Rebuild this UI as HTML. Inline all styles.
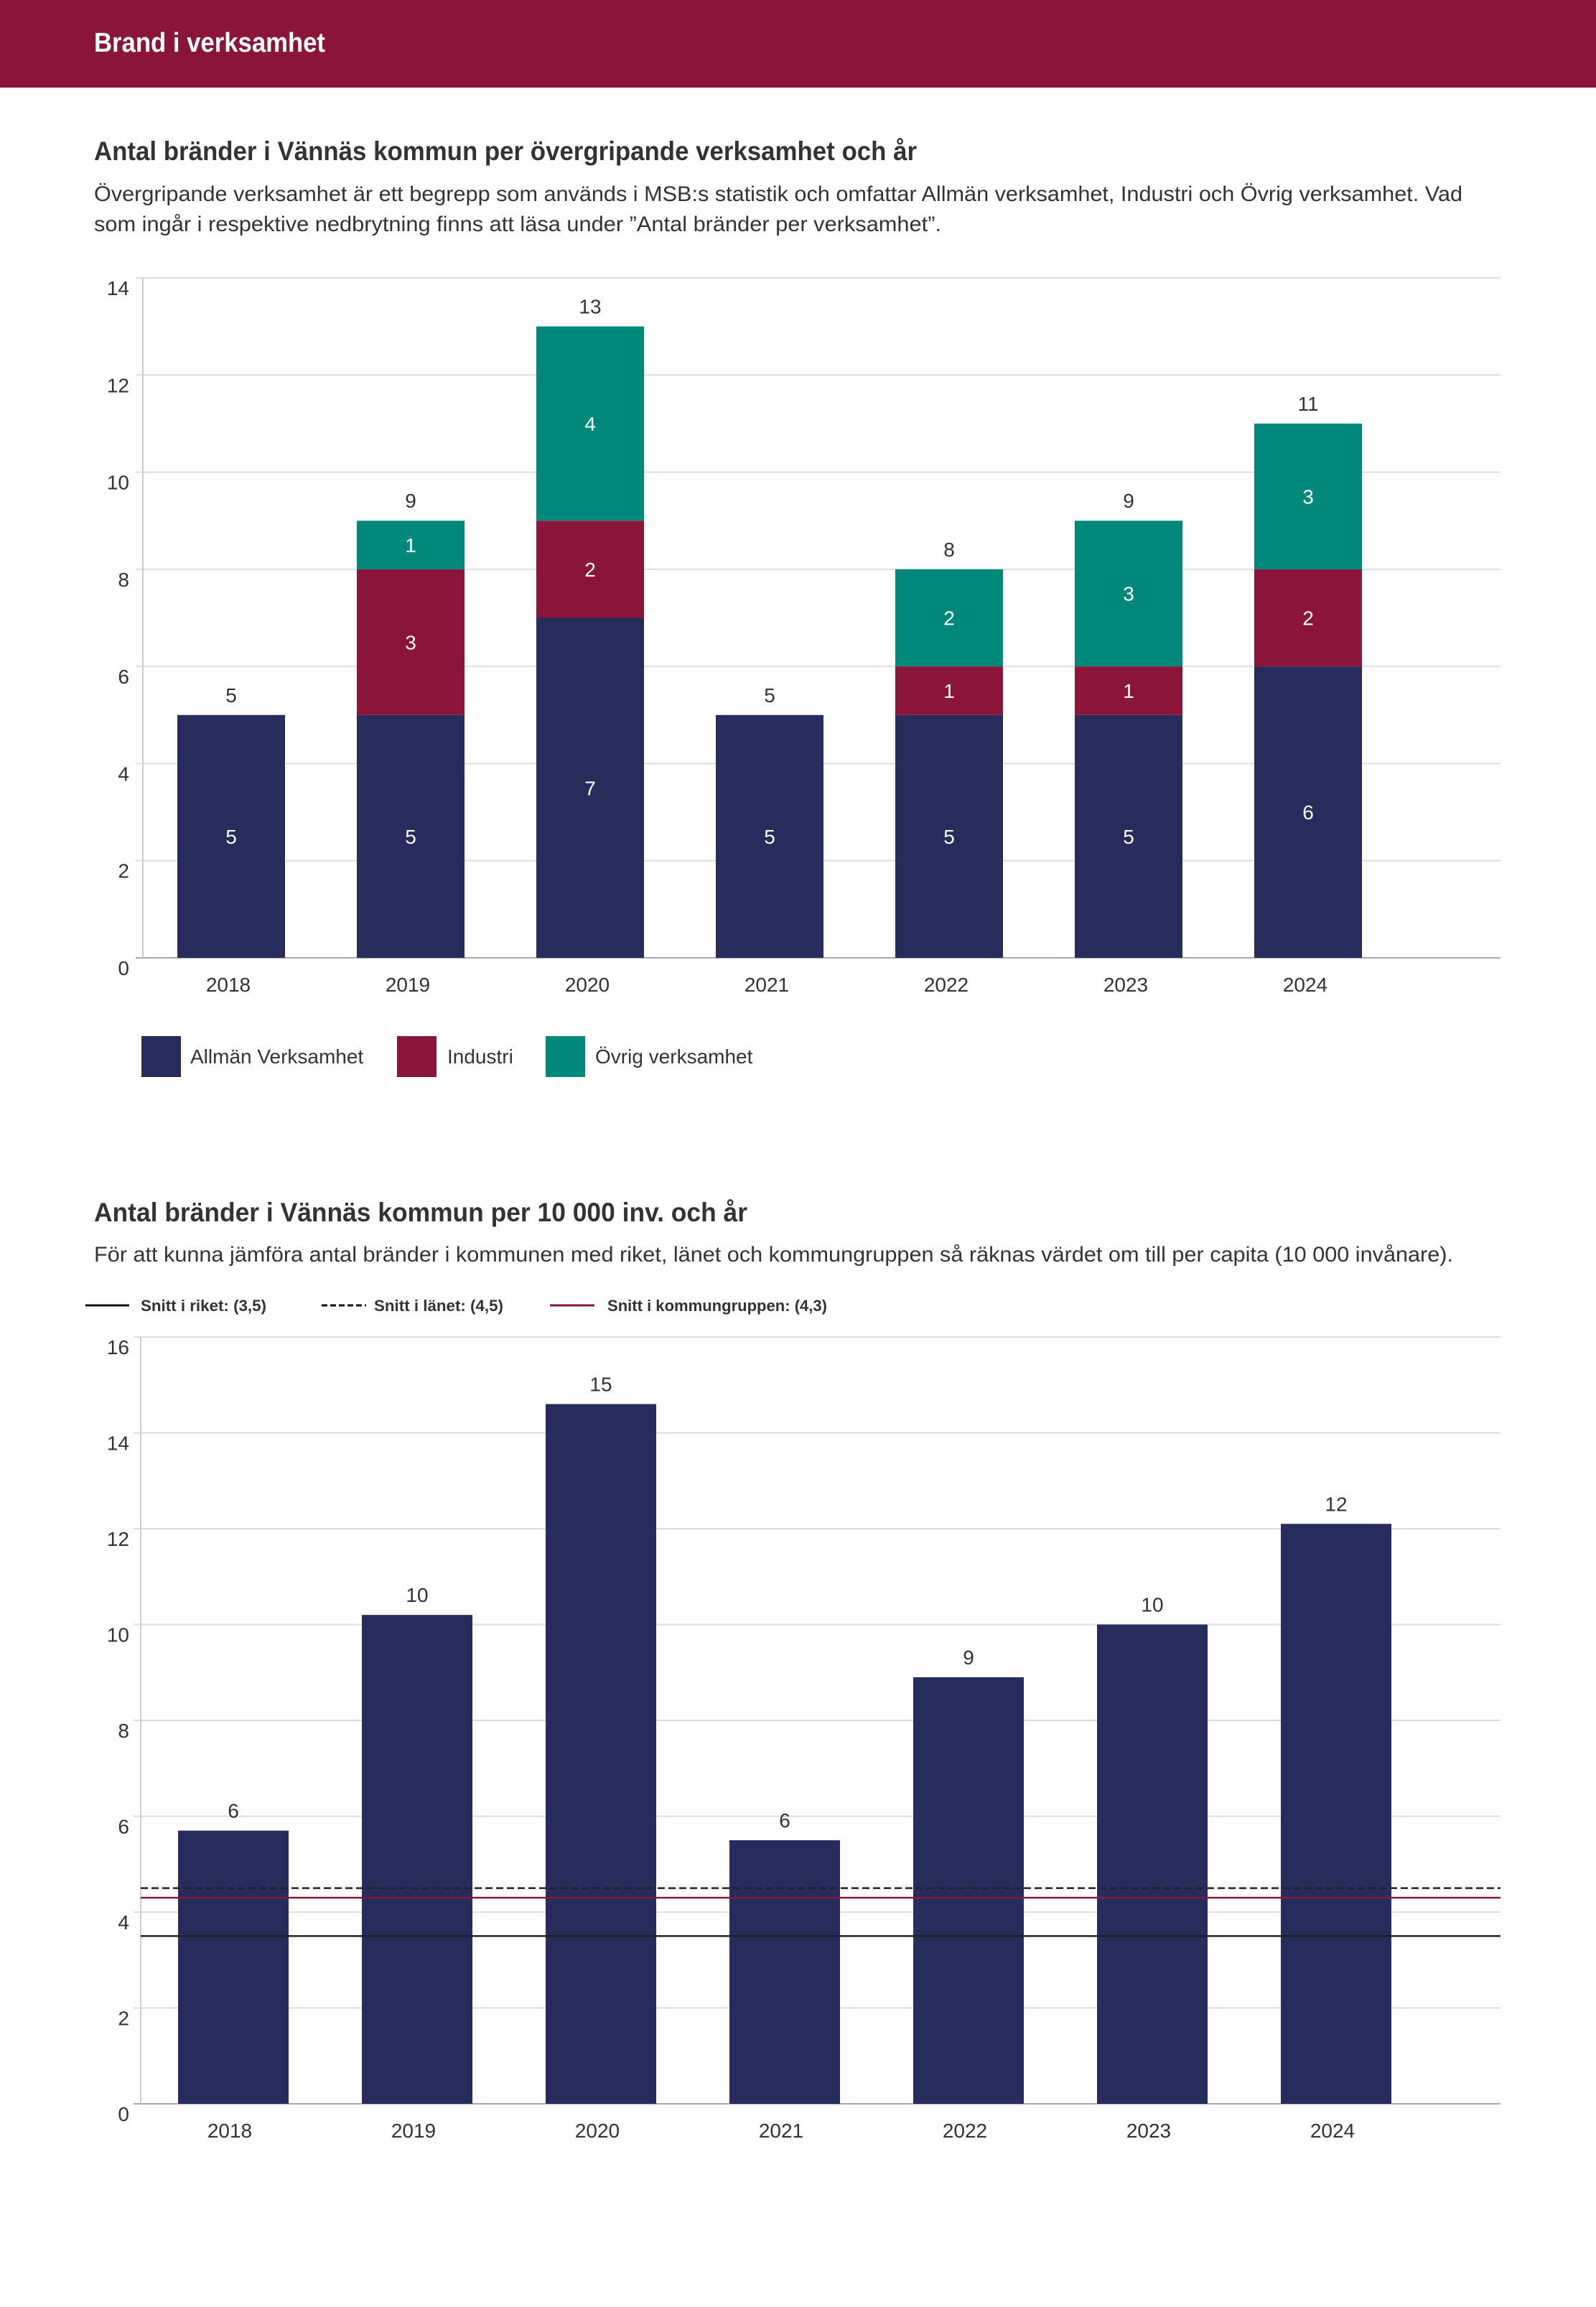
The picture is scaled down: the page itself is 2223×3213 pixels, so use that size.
<!DOCTYPE html>
<html><head><meta charset="utf-8"><style>
body{margin:0;background:#fff}
svg{display:block;font-family:"Liberation Sans",sans-serif}
</style></head><body>
<svg id="page" width="2223" height="3213" xmlns="http://www.w3.org/2000/svg">
<rect x="0" y="0" width="2223" height="122" fill="#8b1538"/>
<text x="131" y="72" fill="#fff" font-weight="bold" font-size="38" textLength="322" lengthAdjust="spacingAndGlyphs">Brand i verksamhet</text>
<text x="131" y="223" fill="#333" font-weight="bold" font-size="37" textLength="1146" lengthAdjust="spacingAndGlyphs">Antal bränder i Vännäs kommun per övergripande verksamhet och år</text>
<text x="131" y="280" fill="#333" font-size="30" textLength="1906" lengthAdjust="spacingAndGlyphs">Övergripande verksamhet är ett begrepp som används i MSB:s statistik och omfattar Allmän verksamhet, Industri och Övrig verksamhet. Vad</text>
<text x="131" y="322" fill="#333" font-size="30" textLength="1180" lengthAdjust="spacingAndGlyphs">som ingår i respektive nedbrytning finns att läsa under ”Antal bränder per verksamhet”.</text>
<g id="c1"></g>
<g>
<rect x="197" y="1443" width="55" height="57" fill="#262c5c"/>
<text x="265" y="1481" font-size="28" fill="#333">Allmän Verksamhet</text>
<rect x="553" y="1443" width="55" height="57" fill="#8b1538"/>
<text x="623" y="1481" font-size="28" fill="#333">Industri</text>
<rect x="760" y="1443" width="55" height="57" fill="#00897b"/>
<text x="829" y="1481" font-size="28" fill="#333">Övrig verksamhet</text>
</g>
<text x="131" y="1701" fill="#333" font-weight="bold" font-size="37" textLength="910" lengthAdjust="spacingAndGlyphs">Antal bränder i Vännäs kommun per 10 000 inv. och år</text>
<text x="131" y="1757" fill="#333" font-size="30" textLength="1893" lengthAdjust="spacingAndGlyphs">För att kunna jämföra antal bränder i kommunen med riket, länet och kommungruppen så räknas värdet om till per capita (10 000 invånare).</text>
<g font-size="22" font-weight="bold" fill="#333">
<line x1="119" y1="1818" x2="180" y2="1818" stroke="#111" stroke-width="3"/>
<text x="196" y="1826" textLength="175" lengthAdjust="spacingAndGlyphs">Snitt i riket: (3,5)</text>
<line x1="448" y1="1818" x2="510" y2="1818" stroke="#111" stroke-width="3" stroke-dasharray="8,4"/>
<text x="521" y="1826" textLength="180" lengthAdjust="spacingAndGlyphs">Snitt i länet: (4,5)</text>
<line x1="766" y1="1818" x2="828" y2="1818" stroke="#8b1538" stroke-width="3"/>
<text x="846" y="1826" textLength="306" lengthAdjust="spacingAndGlyphs">Snitt i kommungruppen: (4,3)</text>
</g>
<g id="c2"></g>
</svg>
<script>
const years=["2018","2019","2020","2021","2022","2023","2024"];
const allman=[5,5,7,5,5,5,6];
const industri=[0,3,2,0,1,1,2];
const ovrig=[0,1,4,0,2,3,3];
const c1Ticks=[0,2,4,6,8,10,12,14];
const perCapita=[5.7,10.2,14.6,5.5,8.9,10.0,12.1];
const c2Ticks=[0,2,4,6,8,10,12,14,16];
const refRiket=3.5, refLanet=4.5, refKommun=4.3;

const NS="http://www.w3.org/2000/svg";
function mk(parent,tag,attrs,txt){const e=document.createElementNS(NS,tag);for(const k in attrs)e.setAttribute(k,attrs[k]);if(txt!==undefined)e.textContent=txt;parent.appendChild(e);return e;}

(function(){
const g=document.getElementById('c1');
const L=199,R=2090,B=1334,T=387,max=14;
const y=v=>B-v*(B-T)/max;
const x=i=>322+i*250;
const bw=150;
c1Ticks.forEach(t=>{
 const l=mk(g,'line',{x1:L-10,x2:R,y1:y(t),y2:y(t),stroke:t===0?'#aaa':'#ddd','stroke-width':2});
 
 
 const tx=mk(g,'text',{x:180,y:y(t)+24,'text-anchor':'end','font-size':28,fill:'#333'},t);
 
 
});
const ax=mk(g,'line',{x1:L,x2:L,y1:T,y2:B,stroke:'#ccc','stroke-width':2});


const series=[[allman,'#262c5c','allman'],[industri,'#8b1538','industri'],[ovrig,'#00897b','ovrig']];
years.forEach((yr,i)=>{
 let base=0;
 series.forEach(([arr,col,nm])=>{
  const v=arr[i]; if(!v)return;
  const r=mk(g,'rect',{x:x(i)-bw/2,y:y(base+v),width:bw,height:y(base)-y(base+v),fill:col});
  
  
  const t=mk(g,'text',{x:x(i),y:(y(base)+y(base+v))/2+10,'text-anchor':'middle','font-size':28,fill:'#fff'},v);
  
  
  base+=v;
 });
 const tt=mk(g,'text',{x:x(i),y:y(base)-18,'text-anchor':'middle','font-size':28,fill:'#333'},base);
 
 
 const xl=mk(g,'text',{x:x(i)-4,y:1381,'text-anchor':'middle','font-size':28,fill:'#333'},yr);
 
 
});
})();

(function(){
const g=document.getElementById('c2');
const L=196,R=2090,B=2930,T=1862,max=16;
const y=v=>B-v*(B-T)/max;
const x=i=>325+i*256;
const bw=154;
c2Ticks.forEach(t=>{
 const l=mk(g,'line',{x1:L-10,x2:R,y1:y(t),y2:y(t),stroke:t===0?'#aaa':'#ddd','stroke-width':2});
 
 
 const tx=mk(g,'text',{x:180,y:y(t)+24,'text-anchor':'end','font-size':28,fill:'#333'},t);
 
 
});
const ax=mk(g,'line',{x1:L,x2:L,y1:T,y2:B,stroke:'#ccc','stroke-width':2});


years.forEach((yr,i)=>{
 const v=perCapita[i];
 const r=mk(g,'rect',{x:x(i)-bw/2,y:y(v),width:bw,height:B-y(v),fill:'#262c5c'});
 
 
 const t=mk(g,'text',{x:x(i),y:y(v)-18,'text-anchor':'middle','font-size':28,fill:'#333'},Math.round(v));
 
 
 const xl=mk(g,'text',{x:x(i)-5,y:2977,'text-anchor':'middle','font-size':28,fill:'#333'},yr);
 
 
});
const a=mk(g,'line',{x1:L,x2:R,y1:y(refLanet),y2:y(refLanet),stroke:'#222','stroke-width':2.5,'stroke-dasharray':'10,5'});


const b=mk(g,'line',{x1:L,x2:R,y1:y(refKommun),y2:y(refKommun),stroke:'#8b1538','stroke-width':2.5});


const c=mk(g,'line',{x1:L,x2:R,y1:y(refRiket),y2:y(refRiket),stroke:'#222','stroke-width':2.5});


})();
</script>
</body></html>
